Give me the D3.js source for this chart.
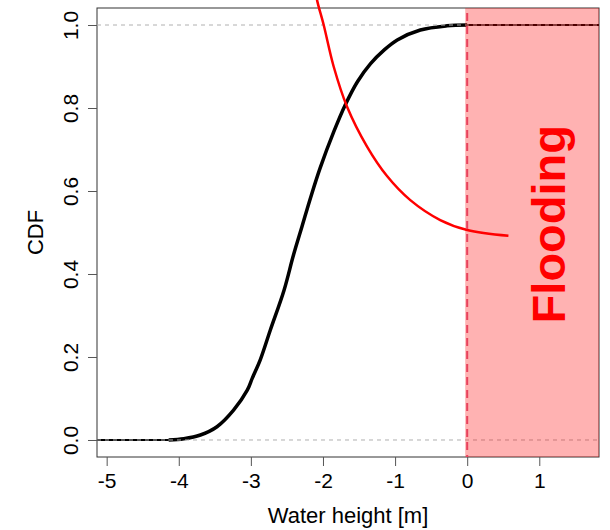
<!DOCTYPE html>
<html>
<head>
<meta charset="utf-8">
<style>
  body { margin: 0; background: #fff; }
  svg { display: block; font-family: 'Liberation Sans', Arial, sans-serif; }
  .tick-label { font-size: 21px; fill: #000; }
  .axis-title { font-size: 22px; fill: #000; }
</style>
</head>
<body>
<svg width="610" height="530"></svg>
<script src="https://d3js.org/d3.v7.min.js"></script>
<script>
// CDF of water height
const cdfX = [-4.14, -3.93, -3.70, -3.47, -3.24, -3.05, -2.98, -2.87, -2.73, -2.54, -2.41, -2.29, -2.17, -2.04, -1.85, -1.69, -1.52, -1.34, -1.15, -0.97, -0.65, -0.28, 0];
const cdfY = [0, 0.003, 0.012, 0.032, 0.072, 0.120, 0.149, 0.193, 0.265, 0.361, 0.445, 0.515, 0.585, 0.655, 0.743, 0.808, 0.864, 0.907, 0.940, 0.964, 0.988, 0.998, 1.0];

// flat tails of the CDF outside the data range
const tailLeftX = [-5.134, -4.14];
const tailLeftY = [0, 0];
const tailRightX = [0, 1.828];
const tailRightY = [1, 1];

// red curve
const redX = [-2.12, -2.082, -1.99, -1.852, -1.666, -1.389, -1.112, -0.789, -0.374, 0, 0.572];
const redY = [1.10, 1.060, 1.0, 0.900, 0.803, 0.707, 0.636, 0.578, 0.530, 0.506, 0.492];

const xTicks = [-5, -4, -3, -2, -1, 0, 1];
const yTicks = [0, 0.2, 0.4, 0.6, 0.8, 1.0];
const refLines = [0, 1];
const floodStart = 0;
const floodLabel = { x: 1.12, y: 0.52, text: "Flooding" };

const margin = { top: 8, right: 11, bottom: 73, left: 97 };
const width = 610, height = 530;

const svg = d3.select("svg");

const x = d3.scaleLinear()
  .domain([-5.134, 1.828])
  .range([margin.left, width - margin.right]);

const y = d3.scaleLinear()
  .domain([-0.041, 1.041])
  .range([height - margin.bottom, margin.top]);

const toPts = (xs, ys) => xs.map((v, i) => [v, ys[i]]);

const line = d3.line()
  .x(d => x(d[0]))
  .y(d => y(d[1]))
  .curve(d3.curveCatmullRom.alpha(0.5));

// plot box
svg.append("rect")
  .attr("x", x.range()[0])
  .attr("y", y.range()[1])
  .attr("width", x.range()[1] - x.range()[0])
  .attr("height", y.range()[0] - y.range()[1])
  .attr("fill", "none")
  .attr("stroke", "#333")
  .attr("stroke-width", 1);

// thin flat tails
[[tailLeftX, tailLeftY], [tailRightX, tailRightY]].forEach(([xs, ys]) => {
  svg.append("path")
    .attr("d", line(toPts(xs, ys)))
    .attr("fill", "none")
    .attr("stroke", "#000")
    .attr("stroke-width", 2);
});

// main CDF
svg.append("path")
  .attr("d", line(toPts(cdfX, cdfY)))
  .attr("fill", "none")
  .attr("stroke", "#000")
  .attr("stroke-width", 3.5)
  .attr("stroke-linejoin", "round");

// grey reference lines at 0 and 1
svg.selectAll(".ref")
  .data(refLines)
  .join("line")
  .attr("class", "ref")
  .attr("x1", x.range()[0])
  .attr("x2", x.range()[1])
  .attr("y1", d => y(d))
  .attr("y2", d => y(d))
  .attr("stroke", "#b0b0b0")
  .attr("stroke-width", 1)
  .attr("stroke-dasharray", "4,4");

// red curve
svg.append("path")
  .attr("d", line(toPts(redX, redY)))
  .attr("fill", "none")
  .attr("stroke", "#ff0000")
  .attr("stroke-width", 2.5);

// flooding zone
svg.append("rect")
  .attr("x", x(floodStart) - 2)
  .attr("y", y.range()[1])
  .attr("width", x.range()[1] - x(floodStart) + 2)
  .attr("height", y.range()[0] - y.range()[1])
  .attr("fill", "rgba(255,0,0,0.3)");

svg.append("line")
  .attr("x1", x(floodStart))
  .attr("x2", x(floodStart))
  .attr("y1", y.range()[1])
  .attr("y2", y.range()[0])
  .attr("stroke", "#e8425c")
  .attr("stroke-width", 2)
  .attr("stroke-dasharray", "8,5")
  .attr("stroke-dashoffset", -5);

svg.append("text")
  .attr("transform", `translate(${x(floodLabel.x)},${y(floodLabel.y)}) rotate(-90)`)
  .attr("text-anchor", "middle")
  .attr("dy", "0.37em")
  .style("font-size", "47px")
  .style("font-weight", "bold")
  .attr("fill", "#ff0000")
  .text(floodLabel.text);

// x axis
const xAxis = svg.append("g")
  .attr("transform", `translate(0,${y.range()[0]})`)
  .call(d3.axisBottom(x).tickValues(xTicks).tickSize(9).tickPadding(7).tickFormat(d3.format("d")))
  .call(g => g.select(".domain").remove());
xAxis.selectAll(".tick line").attr("stroke", "#555");
xAxis.selectAll(".tick text")
  .attr("class", "tick-label")
  .attr("font-family", null)
  .attr("font-size", null)
  .text(d => d < 0 ? "-" + Math.abs(d) : d);

// y axis
const yAxis = svg.append("g")
  .attr("transform", `translate(${x.range()[0]},0)`)
  .call(d3.axisLeft(y).tickValues(yTicks).tickSize(9).tickFormat(d3.format(".1f")))
  .call(g => g.select(".domain").remove());
yAxis.selectAll(".tick line").attr("stroke", "#555");
yAxis.selectAll(".tick text")
  .attr("class", "tick-label")
  .attr("font-family", null)
  .attr("font-size", null)
  .attr("x", null)
  .attr("dy", null)
  .attr("text-anchor", "middle")
  .attr("transform", "translate(-19,0) rotate(-90)");

// axis titles
svg.append("text")
  .attr("class", "axis-title")
  .attr("x", (x.range()[0] + x.range()[1]) / 2)
  .attr("y", 523)
  .attr("text-anchor", "middle")
  .text("Water height [m]");

svg.append("text")
  .attr("class", "axis-title")
  .attr("transform", `translate(43,${(y.range()[0] + y.range()[1]) / 2}) rotate(-90)`)
  .attr("text-anchor", "middle")
  .text("CDF");
</script>
</body>
</html>
